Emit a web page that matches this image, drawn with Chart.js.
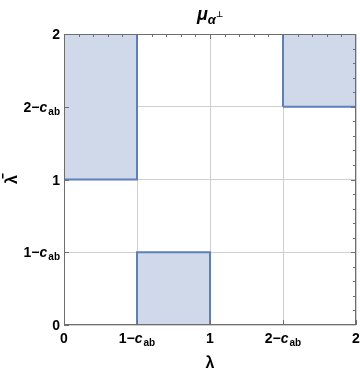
<!DOCTYPE html>
<html>
<head>
<meta charset="utf-8">
<script src="https://cdn.jsdelivr.net/npm/chart.js@4.4.1/dist/chart.umd.min.js"></script>
<style>
  html, body { margin: 0; padding: 0; background: #fff; }
  #wrap { width: 360px; height: 375px; }
</style>
</head>
<body>
<div id="wrap"><canvas id="regions"></canvas></div>
<script>
// Chart data
const cab = 0.5
const tickValues = [0, 1 - cab, 1, 2 - cab, 2]
const tickLabels = [['0', ''], ['1\u2212', 'c'], ['1', ''], ['2\u2212', 'c'], ['2', '']]
// rectangles: x from..to, y from..to
const rectX0 = [0, 1 - cab, 2 - cab]
const rectX1 = [1 - cab, 1, 2]
const rectY0 = [1, 0, 2 - cab]
const rectY1 = [2, 1 - cab, 2]

const fillColor = 'rgba(207, 217, 234, 1)'
const edgeColor = 'rgb(92, 128, 190)'
const frameColor = '#6e6e6e'
const gridColor = '#cfcfcf'

const datasets = rectX0.map((x0, i) => ({
    data: [
        { x: x0, y: rectY0[i] },
        { x: rectX1[i], y: rectY0[i] },
        { x: rectX1[i], y: rectY1[i] },
        { x: x0, y: rectY1[i] },
        { x: x0, y: rectY0[i] }
    ],
    showLine: true,
    fill: 'shape',
    backgroundColor: fillColor,
    borderColor: edgeColor,
    borderWidth: 2,
    pointRadius: 0,
    tension: 0
}))

function setTicks(axis) {
    axis.ticks = tickValues.map(v => ({ value: v }))
}

// draws labels with subscripts, frame and small frame ticks
const decorations = {
    id: 'decorations',
    afterDraw(chart) {
        const ctx = chart.ctx
        const xs = chart.scales.x
        const ys = chart.scales.y
        const a = chart.chartArea
        ctx.save()

        // frame
        ctx.strokeStyle = frameColor
        ctx.lineWidth = 1
        ctx.strokeRect(a.left + 0.5, a.top + 0.5, a.right - a.left - 1, a.bottom - a.top - 1)

        // major ticks on left and bottom, minor ticks on top and right
        ctx.beginPath()
        tickValues.forEach(v => {
            const px = Math.round(xs.getPixelForValue(v)) + 0.5
            const py = Math.round(ys.getPixelForValue(v)) + 0.5
            ctx.moveTo(px, a.bottom)
            ctx.lineTo(px, a.bottom - 5)
            ctx.moveTo(a.left, py)
            ctx.lineTo(a.left + 5, py)
        })
        for (let k = 1; k < 20; k++) {
            const v = k / 10
            const px = Math.round(xs.getPixelForValue(v)) + 0.5
            const py = Math.round(ys.getPixelForValue(v)) + 0.5
            const len = k % 5 === 0 ? 5 : 3
            ctx.moveTo(px, a.top)
            ctx.lineTo(px, a.top + len)
            ctx.moveTo(a.right, py)
            ctx.lineTo(a.right - len, py)
        }
        ctx.stroke()

        ctx.fillStyle = '#000'
        ctx.textBaseline = 'alphabetic'
        const mainFont = 'bold 14px "Liberation Sans", Arial, sans-serif'
        const italFont = 'italic bold 14px "Liberation Sans", Arial, sans-serif'
        const subFont = 'bold 10px "Liberation Sans", Arial, sans-serif'

        function labelWidth(parts) {
            ctx.font = mainFont
            let w = ctx.measureText(parts[0]).width
            if (parts[1]) {
                ctx.font = italFont
                w += ctx.measureText(parts[1]).width
                ctx.font = subFont
                w += ctx.measureText('ab').width + 1
            }
            return w
        }
        function drawLabel(parts, x, y) {
            ctx.textAlign = 'left'
            ctx.font = mainFont
            ctx.fillText(parts[0], x, y)
            x += ctx.measureText(parts[0]).width
            if (parts[1]) {
                ctx.font = italFont
                ctx.fillText(parts[1], x, y)
                x += ctx.measureText(parts[1]).width + 1
                ctx.font = subFont
                ctx.fillText('ab', x, y + 3)
            }
        }

        tickValues.forEach((v, i) => {
            const parts = tickLabels[i]
            const w = labelWidth(parts)
            const px = xs.getPixelForValue(v)
            drawLabel(parts, px - w / 2, a.bottom + 18)
            const py = ys.getPixelForValue(v)
            drawLabel(parts, a.left - 4 - w, py + 5)
        })

        // title mu_alpha-perp
        const cx = (a.left + a.right) / 2
        ctx.font = 'italic bold 18px "Liberation Sans", Arial, sans-serif'
        const wMu = ctx.measureText('\u03bc').width
        ctx.font = 'italic bold 13px "Liberation Sans", Arial, sans-serif'
        const wAl = ctx.measureText('\u03b1').width
        ctx.font = 'bold 8px "DejaVu Sans", sans-serif'
        const wPp = ctx.measureText('\u22a5').width
        let tx = cx - (wMu + wAl + wPp) / 2
        ctx.font = 'italic bold 18px "Liberation Sans", Arial, sans-serif'
        ctx.fillText('\u03bc', tx, 20)
        tx += wMu
        ctx.font = 'italic bold 13px "Liberation Sans", Arial, sans-serif'
        ctx.fillText('\u03b1', tx, 24)
        tx += wAl
        ctx.font = 'bold 8px "DejaVu Sans", sans-serif'
        ctx.fillText('\u22a5', tx, 17)

        // axis titles
        ctx.font = 'bold 16px "Liberation Sans", Arial, sans-serif'
        ctx.textAlign = 'center'
        ctx.fillText('\u03bb', cx, 368)
        ctx.translate(17, (a.top + a.bottom) / 2)
        ctx.rotate(-Math.PI / 2)
        ctx.fillText('\u03bb', 0, 0)
        ctx.fillRect(1, -15, 5, 1.5)
        ctx.restore()
    }
}

const ctx = document.getElementById('regions').getContext('2d')
const regionChart = new Chart(ctx, {
    type: 'scatter',
    data: { datasets: datasets },
    options: {
        responsive: true,
        maintainAspectRatio: false,
        animation: false,
        layout: { padding: { left: 64, right: 4, top: 34, bottom: 50 } },
        plugins: {
            legend: { display: false },
            tooltip: { enabled: false }
        },
        scales: {
            x: {
                type: 'linear',
                min: 0,
                max: 2,
                afterBuildTicks: setTicks,
                ticks: { display: false },
                grid: { color: gridColor, drawTicks: false },
                border: { display: false }
            },
            y: {
                type: 'linear',
                min: 0,
                max: 2,
                afterBuildTicks: setTicks,
                ticks: { display: false },
                grid: { color: gridColor, drawTicks: false },
                border: { display: false }
            }
        }
    },
    plugins: [decorations]
})
</script>
</body>
</html>
